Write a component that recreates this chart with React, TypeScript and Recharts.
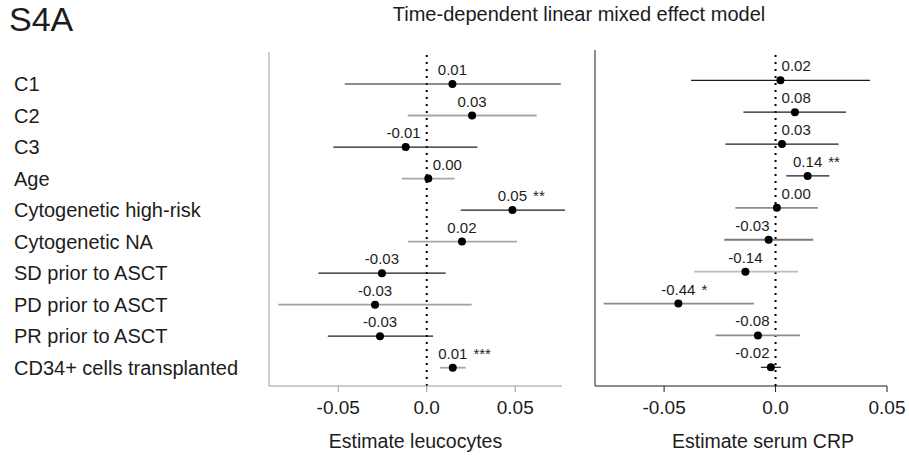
import React from 'react';
import { ScatterChart, Scatter, XAxis, YAxis, ReferenceLine, Label } from 'recharts';

const predictors = [
  'C1',
  'C2',
  'C3',
  'Age',
  'Cytogenetic high-risk',
  'Cytogenetic NA',
  'SD prior to ASCT',
  'PD prior to ASCT',
  'PR prior to ASCT',
  'CD34+ cells transplanted',
];

const xTicks = [-0.05, 0, 0.05];

// leucocytes model
const leucoEst = [0.0145, 0.0256, -0.0119, 0.0009, 0.0484, 0.0199, -0.0253, -0.0292, -0.0264, 0.0147];
const leucoLow = [-0.0463, -0.0107, -0.0528, -0.0141, 0.0192, -0.0107, -0.0612, -0.0838, -0.0559, 0.0075];
const leucoHigh = [0.0757, 0.0621, 0.0286, 0.0156, 0.0781, 0.051, 0.0107, 0.0254, 0.0036, 0.022];
const leucoText = ['0.01', '0.03', '-0.01', '0.00', '0.05', '0.02', '-0.03', '-0.03', '-0.03', '0.01'];
const leucoStars = ['', '', '', '', '**', '', '', '', '', '***'];

// serum CRP model
const crpEst = [0.0022, 0.0087, 0.0029, 0.0144, 0.0006, -0.0031, -0.0135, -0.0436, -0.0079, -0.0021];
const crpLow = [-0.0379, -0.0144, -0.0225, 0.0048, -0.018, -0.023, -0.0365, -0.0771, -0.0269, -0.0066];
const crpHigh = [0.0424, 0.0316, 0.0283, 0.0241, 0.019, 0.0169, 0.0101, -0.0097, 0.011, 0.0024];
const crpText = ['0.02', '0.08', '0.03', '0.14', '0.00', '-0.03', '-0.14', '-0.44', '-0.08', '-0.02'];
const crpStars = ['', '', '', '**', '', '', '', '*', '', ''];

const FONT = '"Liberation Sans", Arial, Helvetica, sans-serif';
const INK = '#1c1c1c';

// line shades per row
const leucoShade = ['#1c1c1c', '#a6a6a6', '#1c1c1c', '#a6a6a6', '#1c1c1c', '#a6a6a6', '#1c1c1c', '#a0a0a0', '#1c1c1c', '#a6a6a6'];
const crpShade = ['#1c1c1c', '#1c1c1c', '#1c1c1c', '#1c1c1c', '#8c8c8c', '#7a7a7a', '#bdbdbd', '#8c8c8c', '#8c8c8c', '#1c1c1c'];

const rowsFrom = (est: number[], low: number[], high: number[], text: string[], stars: string[]) =>
  predictors.map((name, i) => ({ row: i + 1, name, est: est[i], low: low[i], high: high[i], text: text[i], stars: stars[i] }));

const leucoRows = rowsFrom(leucoEst, leucoLow, leucoHigh, leucoText, leucoStars);
const crpRows = rowsFrom(crpEst, crpLow, crpHigh, crpText, crpStars);

// rough width of the value label at 15px
const textW = (s: string) => [...s].reduce((w, c) => w + (c === '.' ? 4.2 : c === '-' ? 5 : 8.35), 0);

const dotShape = (pxPerUnit: number) => (p: any) => {
  const { cx, cy, payload } = p;
  const zero = cx - payload.est * pxPerUnit;
  const w = textW(payload.text);
  let mid = cx;
  // keep the number clear of the dotted zero line
  if (payload.est >= 0 && mid - w / 2 < zero + 6) mid = zero + 6 + w / 2;
  if (payload.est < 0 && mid + w / 2 > zero - 6) mid = zero - 6 - w / 2;
  return (
    <g>
      <circle cx={cx} cy={cy} r={4} fill="#000" />
      <text x={mid} y={cy - 9} textAnchor="middle" fontSize={15} fill={INK} fontFamily={FONT}>
        {payload.text}
      </text>
      {payload.stars && (
        <text x={mid + w / 2 + 6} y={cy - 9} fontSize={15} fill={INK} fontFamily={FONT}>
          {payload.stars}
        </text>
      )}
    </g>
  );
};

const RowTick = ({ y, payload }: any) => (
  <text x={14} y={y} dy={7} fontSize={20} fill={INK} fontFamily={FONT}>
    {predictors[payload.value - 1]}
  </text>
);

const fmt = (v: number) => (v === 0 ? '0.0' : v.toFixed(2));

function Panel({ rows, shade, left, width, margin, yWidth, xDomain, yDomain, axisColor, title, titleDx, labels }: any) {
  const plotW = width - margin.left - margin.right - yWidth;
  const k = plotW / (xDomain[1] - xDomain[0]);
  return (
    <div style={{ position: 'absolute', left, top: 0 }}>
      <ScatterChart width={width} height={456} margin={margin}>
        <XAxis
          type="number"
          dataKey="est"
          domain={xDomain}
          allowDataOverflow
          ticks={xTicks}
          interval={0}
          tickFormatter={fmt}
          tickSize={6}
          tickMargin={9}
          height={62}
          stroke={axisColor}
          tick={{ fontSize: 19, fill: INK, fontFamily: FONT }}
        >
          <Label value={title} position="insideBottom" offset={0} dx={titleDx} fontSize={19.5} fill={INK} fontFamily={FONT} />
        </XAxis>
        <YAxis
          type="number"
          dataKey="row"
          domain={yDomain}
          allowDataOverflow
          reversed
          width={yWidth}
          ticks={labels ? [1, 2, 3, 4, 5, 6, 7, 8, 9, 10] : []}
          interval={0}
          tick={labels ? <RowTick /> : false}
          tickLine={false}
          stroke={axisColor}
        />
        <ReferenceLine x={0} stroke="#000" strokeWidth={2} strokeDasharray="2 5" />
        {rows.map((r: any, i: number) => (
          <ReferenceLine
            key={r.name}
            segment={[{ x: r.low, y: r.row }, { x: r.high, y: r.row }]}
            stroke={shade[i]}
            strokeWidth={shade[i] === '#1c1c1c' ? 1.2 : 1.8}
            ifOverflow="visible"
          />
        ))}
        <Scatter data={rows} isAnimationActive={false} shape={dotShape(k)} />
      </ScatterChart>
    </div>
  );
}

export default function App() {
  return (
    <div style={{ position: 'absolute', left: 0, top: 0, width: 909, height: 456, background: '#fff', overflow: 'hidden' }}>
      <Panel
        rows={leucoRows}
        shade={leucoShade}
        left={0}
        width={600}
        margin={{ top: 52, right: 38, bottom: 8, left: 0 }}
        yWidth={269}
        xDomain={[-0.0891, 0.0764]}
        yDomain={[-0.015, 10.58]}
        axisColor="#9a9a9a"
        title="Estimate leucocytes"
        titleDx={0}
        labels
      />
      <Panel
        rows={crpRows}
        shade={crpShade}
        left={580}
        width={329}
        margin={{ top: 50, right: 22, bottom: 8, left: 0 }}
        yWidth={15}
        xDomain={[-0.081, 0.05]}
        yDomain={[0.05, 10.586]}
        axisColor="#1c1c1c"
        title="Estimate serum CRP"
        titleDx={22}
        labels={false}
      />
      <svg width={909} height={456} style={{ position: 'absolute', left: 0, top: 0, pointerEvents: 'none' }}>
        <text x={9} y={31} fontSize={34} fill={INK} fontFamily={FONT} fontWeight={300}>
          S4A
        </text>
        <text x={579} y={21} textAnchor="middle" fontSize={20} fill={INK} fontFamily={FONT}>
          Time-dependent linear mixed effect model
        </text>
      </svg>
    </div>
  );
}
